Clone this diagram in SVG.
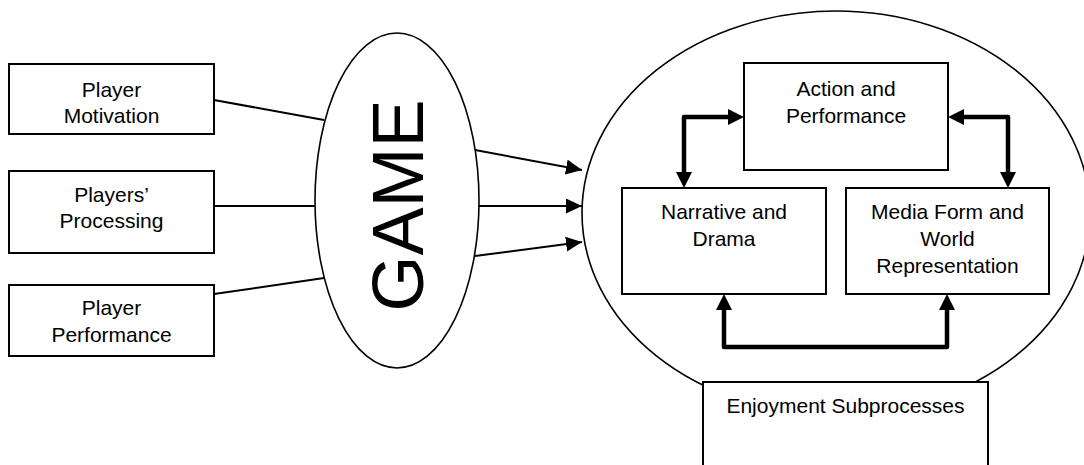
<svg xmlns="http://www.w3.org/2000/svg" width="1084" height="465" viewBox="0 0 1084 465">
<style>
.box{fill:#fff;stroke:#000;stroke-width:2}
.ell{fill:#fff;stroke:#000;stroke-width:1.6}
.t{font-family:"Liberation Sans",Arial,sans-serif;font-size:21px;fill:#000;text-anchor:middle}
.thin{stroke:#000;stroke-width:2;fill:none}
.thick{stroke:#000;stroke-width:4.5;fill:none;stroke-linejoin:round}
</style>
<defs>
<marker id="ah" markerWidth="16" markerHeight="16" refX="16" refY="7.5" orient="auto" markerUnits="userSpaceOnUse">
<path d="M0,0 L16,7.5 L0,15 Z" fill="#000"/>
</marker>
<marker id="ahb" markerWidth="16" markerHeight="16" refX="8" refY="8" orient="auto" markerUnits="userSpaceOnUse">
<path d="M0,0 L16,8 L0,16 Z" fill="#000"/>
</marker>
<marker id="ahbs" markerWidth="16" markerHeight="16" refX="8" refY="8" orient="auto" markerUnits="userSpaceOnUse">
<path d="M16,0 L0,8 L16,16 Z" fill="#000"/>
</marker>
</defs>
<g id="enjoyment-circle">
<ellipse class="ell" cx="836" cy="213" rx="254" ry="202"/>
</g>
<g id="connectors">
<line class="thin" x1="214" y1="100" x2="324" y2="120"/>
<line class="thin" x1="214" y1="206" x2="316" y2="206"/>
<line class="thin" x1="214" y1="294" x2="324" y2="278"/>
<line class="thin" x1="475" y1="150" x2="582" y2="170" marker-end="url(#ah)"/>
<line class="thin" x1="479" y1="206" x2="582" y2="206" marker-end="url(#ah)"/>
<line class="thin" x1="475" y1="256" x2="582" y2="242" marker-end="url(#ah)"/>
<path class="thick" d="M684,180 L684,117 L736,117" marker-start="url(#ahbs)" marker-end="url(#ahb)"/>
<path class="thick" d="M956,117 L1008,117 L1008,180" marker-start="url(#ahbs)" marker-end="url(#ahb)"/>
<path class="thick" d="M724,302 L724,347 L947,347 L947,302" marker-start="url(#ahbs)" marker-end="url(#ahb)"/>
</g>
<g id="game">
<ellipse class="ell" cx="397" cy="200.5" rx="82" ry="167.5"/>
<text x="0" y="0" transform="translate(423,205.5) rotate(-90)" style="font-family:'Liberation Sans',Arial,sans-serif;font-size:72px;text-anchor:middle;fill:#000">GAME</text>
</g>
<g id="player-motivation">
<rect class="box" x="9" y="64" width="205" height="70"/>
<text class="t" x="111.5" y="97">Player</text>
<text class="t" x="111.5" y="123">Motivation</text>
</g>
<g id="players-processing">
<rect class="box" x="9" y="171" width="205" height="82"/>
<text class="t" x="111.5" y="202">Players’</text>
<text class="t" x="111.5" y="228">Processing</text>
</g>
<g id="player-performance">
<rect class="box" x="9" y="285" width="205" height="71"/>
<text class="t" x="111.5" y="315">Player</text>
<text class="t" x="111.5" y="342">Performance</text>
</g>
<g id="action-performance">
<rect class="box" x="744" y="63" width="204" height="107"/>
<text class="t" x="846" y="96">Action and</text>
<text class="t" x="846" y="123">Performance</text>
</g>
<g id="narrative-drama">
<rect class="box" x="622" y="188" width="204" height="106"/>
<text class="t" x="724" y="219">Narrative and</text>
<text class="t" x="724" y="246">Drama</text>
</g>
<g id="media-form">
<rect class="box" x="846" y="188" width="203" height="106"/>
<text class="t" x="947.5" y="219">Media Form and</text>
<text class="t" x="947.5" y="246">World</text>
<text class="t" x="947.5" y="273">Representation</text>
</g>
<g id="enjoyment-subprocesses">
<rect class="box" x="703" y="382" width="285" height="100"/>
<text class="t" x="845.5" y="413">Enjoyment Subprocesses</text>
</g>
</svg>
